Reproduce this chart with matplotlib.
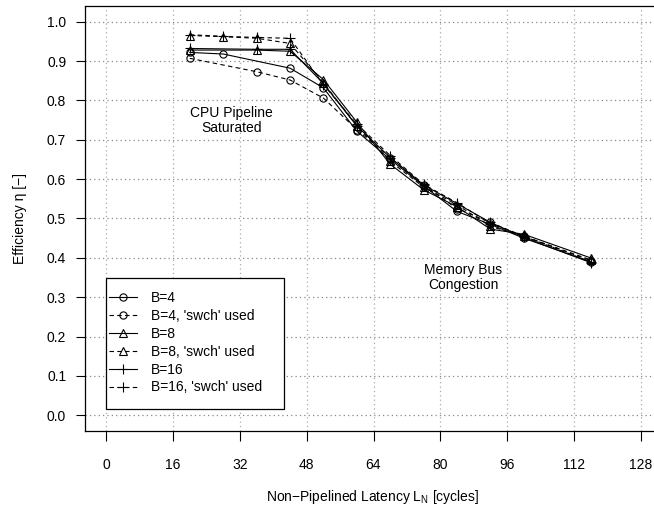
import matplotlib
matplotlib.use("Agg")
import matplotlib.pyplot as plt
from matplotlib.patches import Rectangle

plt.rcParams['font.family'] = ['Liberation Sans', 'DejaVu Sans']
plt.rcParams['font.size'] = 10

# Data
x_b4 = [20, 28, 44, 52, 60, 68, 76, 84, 92, 100, 116]
y_b4 = [0.922, 0.918, 0.882, 0.832, 0.722, 0.650, 0.583, 0.518, 0.485, 0.450, 0.390]
x_b4s = [20, 36, 44, 52, 60, 68, 76, 84, 92, 100, 116]
y_b4s = [0.907, 0.873, 0.852, 0.806, 0.726, 0.655, 0.585, 0.525, 0.490, 0.455, 0.393]
x_b8 = [20, 36, 44, 52, 60, 68, 76, 84, 92, 100, 116]
y_b8 = [0.928, 0.928, 0.925, 0.853, 0.745, 0.638, 0.573, 0.530, 0.473, 0.460, 0.400]
x_b8s = [20, 28, 36, 44, 52, 60, 68, 76, 84, 92, 100, 116]
y_b8s = [0.965, 0.962, 0.958, 0.945, 0.845, 0.735, 0.645, 0.580, 0.535, 0.480, 0.455, 0.395]
x_b16 = [20, 36, 44, 52, 60, 68, 76, 84, 92, 100, 116]
y_b16 = [0.932, 0.930, 0.930, 0.843, 0.735, 0.655, 0.585, 0.538, 0.490, 0.452, 0.388]
x_b16s = [20, 28, 36, 44, 52, 60, 68, 76, 84, 92, 100, 116]
y_b16s = [0.967, 0.963, 0.960, 0.958, 0.840, 0.740, 0.660, 0.587, 0.540, 0.487, 0.455, 0.390]

labels = ["B=4", "B=4, 'swch' used", "B=8", "B=8, 'swch' used", "B=16", "B=16, 'swch' used"]
xticks = [0, 16, 32, 48, 64, 80, 96, 112, 128]
yticks = [0.0, 0.1, 0.2, 0.3, 0.4, 0.5, 0.6, 0.7, 0.8, 0.9, 1.0]

W, H = 654, 511
fig = plt.figure(figsize=(W / 100, H / 100), dpi=100)
ax = fig.add_axes([85 / W, 1 - 431 / H, (662 - 85) / W, (431 - 6) / H])

ax.set_xlim(-5.12, 133.12)
ax.set_ylim(-0.04, 1.04)

for xv in xticks:
    ax.axvline(xv, color='#aaaaaa', ls=(0, (1, 2.5)), lw=0.9, zorder=1)
for yv in yticks:
    ax.axhline(yv, color='#888888', ls=(0, (1, 2.5)), lw=0.9, zorder=1)

ms = 5.2
common = dict(color='black', lw=0.8, mfc='none', mec='black', mew=0.8, zorder=3)
dash = (0, (4, 3))
h = []
h += ax.plot(x_b4, y_b4, marker='o', ls='-', ms=ms, **common)
h += ax.plot(x_b4s, y_b4s, marker='o', ls=dash, ms=ms, **common)
h += ax.plot(x_b8, y_b8, marker='^', ls='-', ms=ms + 1, **common)
h += ax.plot(x_b8s, y_b8s, marker='^', ls=dash, ms=ms + 1, **common)
h += ax.plot(x_b16, y_b16, marker='+', ls='-', ms=ms + 2, **common)
h += ax.plot(x_b16s, y_b16s, marker='+', ls=dash, ms=ms + 2, **common)

ax.set_xticks(xticks)
ax.set_yticks(yticks)
ax.set_yticklabels([f"{v:.1f}" for v in yticks])
ax.tick_params(axis='x', direction='out', length=7.5, width=0.8, pad=12)
ax.tick_params(axis='y', direction='out', length=6.5, width=0.8, pad=7)
for s in ax.spines.values():
    s.set_linewidth(0.9)

ax.text(30, 0.75, "CPU Pipeline\nSaturated", ha='center', va='center', fontsize=10, linespacing=1.1)
ax.text(85.5, 0.35, "Memory Bus\nCongestion", ha='center', va='center', fontsize=10, linespacing=1.1)

fig.text(20 / W, 1 - 218 / H, "Efficiency η [−]", rotation=90, ha='center', va='center', fontsize=10)
fig.text(373 / W, 1 - 497 / H, "Non−Pipelined Latency L$_\\mathregular{N}$ [cycles]", ha='center', va='center', fontsize=10)

# legend frame drawn explicitly
fig.patches.append(Rectangle((106 / W, 1 - 409 / H), (284 - 106) / W, (409 - 278) / H,
                             transform=fig.transFigure, facecolor='white', edgecolor='black',
                             lw=0.9, zorder=4))
leg = fig.legend(h, labels, loc='upper left', bbox_to_anchor=(109 / W, 1 - 291 / H),
                 borderaxespad=0, frameon=False, borderpad=0,
                 handlelength=2.0, handletextpad=1.0, labelspacing=0.28,
                 numpoints=1, fontsize=10)
leg.set_zorder(5)

fig.savefig("out.png", dpi=100)
